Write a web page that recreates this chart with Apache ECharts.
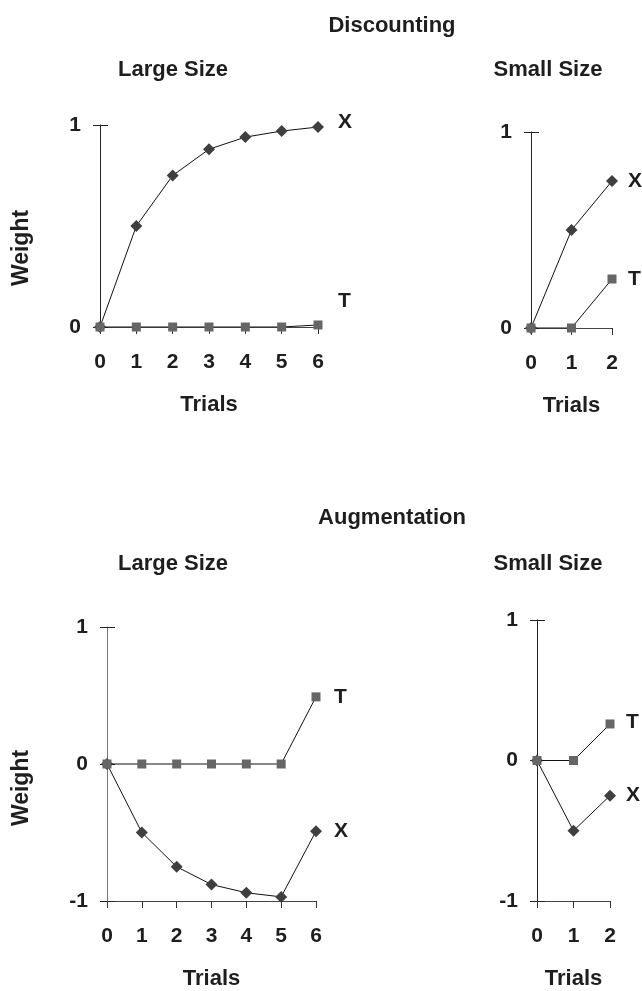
<!DOCTYPE html>
<html>
<head>
<meta charset="utf-8">
<script src="https://cdn.jsdelivr.net/npm/echarts@6/dist/echarts.min.js"></script>
<style>
html, body { margin: 0; padding: 0; background: #fff; }
#main { width: 642px; height: 991px; }
</style>
</head>
<body>
<div id="main"></div>
<script>
// trials on the x axis
var trialsLarge = [0, 1, 2, 3, 4, 5, 6];
var trialsSmall = [0, 1, 2];

// Discounting
var discLargeX = [0, 0.5, 0.75, 0.88, 0.94, 0.97, 0.99];
var discLargeT = [0, 0, 0, 0, 0, 0, 0.01];
var discSmallX = [0, 0.5, 0.75];
var discSmallT = [0, 0, 0.25];

// Augmentation
var augLargeX = [0, -0.5, -0.75, -0.88, -0.94, -0.97, -0.49];
var augLargeT = [0, 0, 0, 0, 0, 0, 0.49];
var augSmallX = [0, -0.5, -0.25];
var augSmallT = [0, 0, 0.26];

var FONT = '"Liberation Sans", Arial, sans-serif';
var INK = '#1e1e1e';

function pairs(xs, ys) {
    return xs.map(function (x, i) { return [x, ys[i]]; });
}

// panel layout
var panels = [
    { left: 100, top: 125, width: 218, height: 202, trials: trialsLarge, yMin: 0, X: discLargeX, T: discLargeT, dist: 20, xOff: -5, tOff: -24, axisColor: '#222' },
    { left: 531, top: 132, width: 81, height: 196, trials: trialsSmall, yMin: 0, X: discSmallX, T: discSmallT, dist: 16, xOff: 0, tOff: 0, axisColor: '#222' },
    { left: 107, top: 627, width: 209, height: 277, trials: trialsLarge, yMin: -1, X: augLargeX, T: augLargeT, dist: 18, xOff: 0, tOff: 0, axisColor: '#777' },
    { left: 537, top: 620, width: 73, height: 282, trials: trialsSmall, yMin: -1, X: augSmallX, T: augSmallT, dist: 16, xOff: 0, tOff: -2, axisColor: '#222' }
];

var grid = [], xAxis = [], yAxis = [], series = [];

panels.forEach(function (p, i) {
    grid.push({ left: p.left, top: p.top, width: p.width, height: p.height });

    xAxis.push({
        type: 'value',
        gridIndex: i,
        min: 0,
        max: p.trials[p.trials.length - 1],
        interval: 1,
        splitLine: { show: false },
        axisLine: { onZero: false, lineStyle: { color: '#444', width: 1 } },
        axisTick: { inside: false, length: 7, lineStyle: { color: '#333' } },
        axisLabel: { margin: 25, color: INK, fontSize: 21, fontWeight: 'bold', fontFamily: FONT },
        name: 'Trials',
        nameLocation: 'middle',
        nameGap: 67,
        nameTextStyle: { color: INK, fontSize: 22, fontWeight: 'bold', fontFamily: FONT }
    });

    // main y axis, ticks inside
    yAxis.push({
        type: 'value',
        gridIndex: i,
        position: 'left',
        min: p.yMin,
        max: 1,
        interval: 1,
        splitLine: { show: false },
        axisLine: { onZero: false, lineStyle: { color: p.axisColor, width: 1 } },
        axisTick: { inside: true, length: 8, lineStyle: { color: '#222' } },
        axisLabel: { margin: 19, color: INK, fontSize: 21, fontWeight: 'bold', fontFamily: FONT }
    });
    // overlay y axis, ticks outside so they cross the line
    yAxis.push({
        type: 'value',
        gridIndex: i,
        position: 'left',
        min: p.yMin,
        max: 1,
        interval: 1,
        splitLine: { show: false },
        axisLine: { show: false },
        axisTick: { inside: false, length: 7, lineStyle: { color: '#222' } },
        axisLabel: { show: false }
    });

    var endLab = function (off) {
        return {
            show: true,
            formatter: '{a}',
            distance: p.dist,
            offset: [0, off],
            color: INK,
            fontSize: 21,
            fontWeight: 'bold',
            fontFamily: FONT
        };
    };

    series.push({
        name: 'X',
        type: 'line',
        xAxisIndex: i,
        yAxisIndex: i * 2,
        data: pairs(p.trials, p.X),
        symbol: 'diamond',
        symbolSize: 12,
        showAllSymbol: true,
        itemStyle: { color: '#3f3f3f' },
        lineStyle: { color: '#111', width: 1 },
        endLabel: endLab(p.xOff),
        animation: false,
        z: 3
    });
    series.push({
        name: 'T',
        type: 'line',
        xAxisIndex: i,
        yAxisIndex: i * 2,
        data: pairs(p.trials, p.T),
        symbol: 'rect',
        symbolSize: 9,
        showAllSymbol: true,
        itemStyle: { color: '#666' },
        lineStyle: { color: '#111', width: 1 },
        endLabel: endLab(p.tOff),
        animation: false,
        z: 4
    });
});

function txt(x, y, s, rot, size) {
    return {
        type: 'text',
        x: x,
        y: y,
        rotation: rot || 0,
        style: {
            text: s,
            fill: INK,
            font: 'bold ' + (size || 22) + 'px ' + FONT,
            align: 'center',
            verticalAlign: 'middle'
        }
    };
}

var myChart = echarts.init(document.getElementById('main'));
myChart.setOption({
    animation: false,
    grid: grid,
    xAxis: xAxis,
    yAxis: yAxis,
    series: series,
    graphic: [
        txt(392, 26, 'Discounting'),
        txt(173, 70, 'Large Size'),
        txt(548, 70, 'Small Size'),
        txt(22, 248, 'Weight', Math.PI / 2, 23),
        txt(392, 518, 'Augmentation'),
        txt(173, 564, 'Large Size'),
        txt(548, 564, 'Small Size'),
        txt(22, 788, 'Weight', Math.PI / 2, 23)
    ]
});
</script>
</body>
</html>
